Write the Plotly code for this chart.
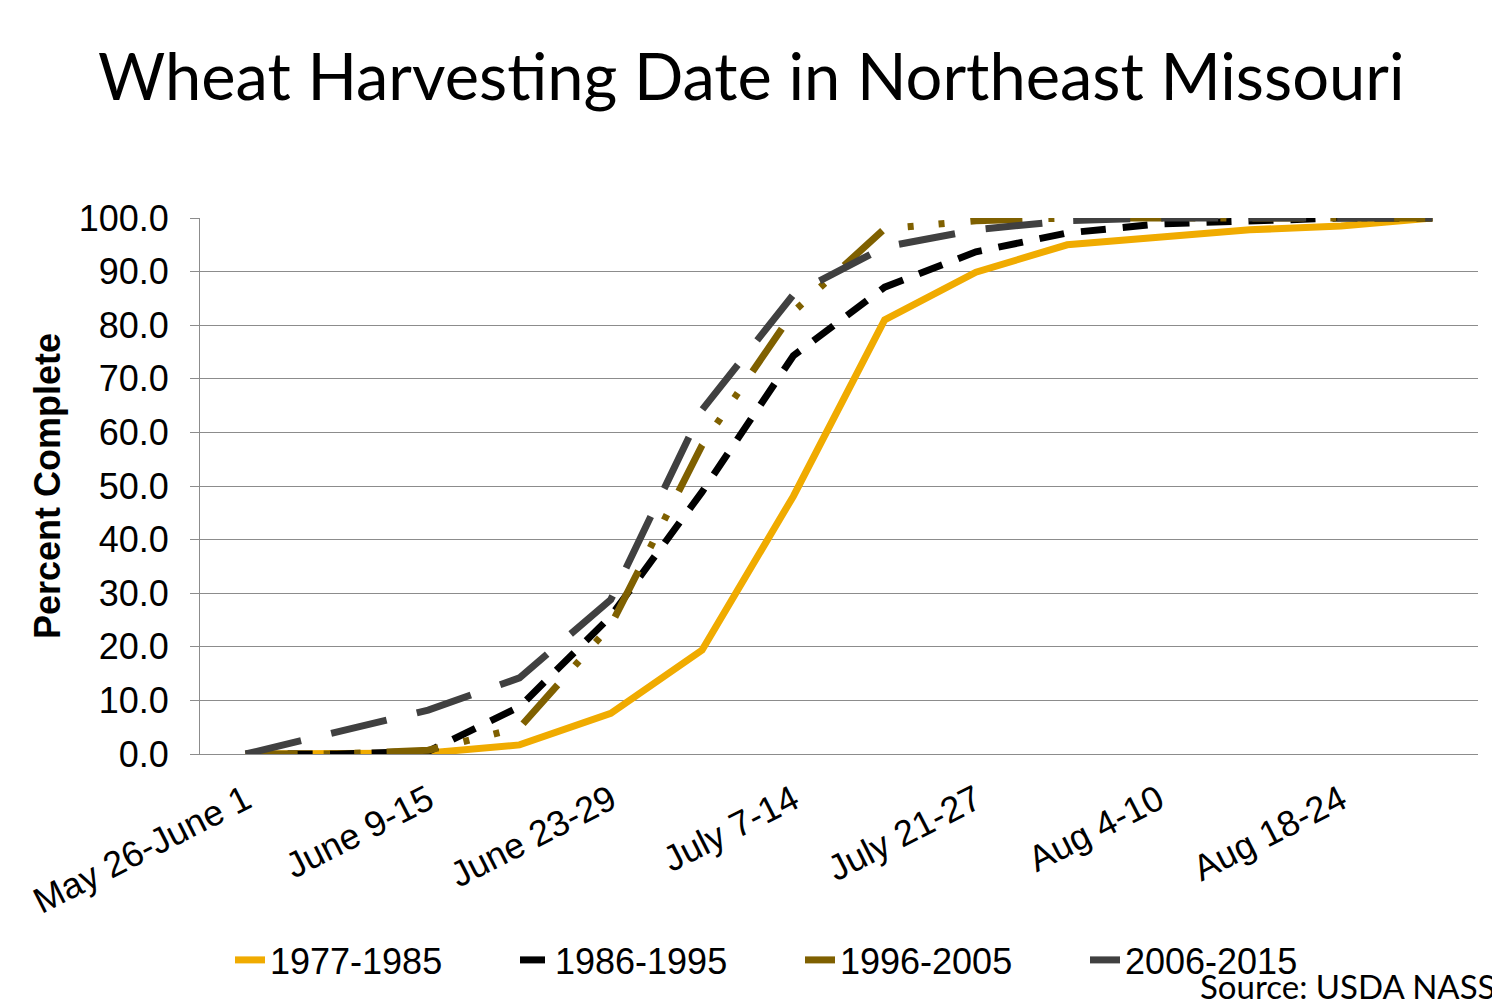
import plotly.graph_objects as go

weeks = ["May 26-June 1", "June 2-8", "June 9-15", "June 16-22", "June 23-29",
         "June 30-July 6", "July 7-14", "July 15-20", "July 21-27", "July 28-Aug 3",
         "Aug 4-10", "Aug 11-17", "Aug 18-24", "Aug 25-31"]
tick_weeks = weeks[::2]

p1977_1985 = [0, 0, 0.2, 1.7, 7.6, 19.4, 48.1, 81.0, 89.9, 95.0, 96.4, 97.8, 98.5, 100]
p1986_1995 = [0, 0, 0.5, 8.8, 25.7, 48.9, 74.3, 87.1, 93.7, 97.2, 98.9, 99.6, 100, 100]
p1996_2005 = [0, 0, 0.7, 4.9, 24.0, 57.6, 82.5, 98.0, 99.5, 100, 100, 100, 100, 100]
p2006_2015 = [0, 4.0, 8.2, 14.2, 28.8, 64.2, 85.7, 94.6, 97.8, 99.5, 100, 100, 100, 100]

series = [
    ("1977-1985", p1977_1985, "#F0AB00", "solid"),
    ("1986-1995", p1986_1995, "#000000", "25px,17px"),
    ("1996-2005", p1996_2005, "#7F6000", "52px,26px,6px,25px,6px,26px"),
    ("2006-2015", p2006_2015, "#404040", "57px,31px"),
]

fig = go.Figure()
for name, vals, color, dash in series:
    fig.add_trace(go.Scatter(x=weeks, y=vals, name=name, mode="lines",
                             line=dict(color=color, width=7, dash=dash)))

fig.update_layout(
    width=1500, height=1000,
    paper_bgcolor="white", plot_bgcolor="white",
    margin=dict(l=192, r=30, t=210, b=254),
    title=dict(text="Wheat Harvesting Date in Northeast Missouri",
               font=dict(family="Lato", size=65, color="black"),
               x=0.4955, xref="container", xanchor="center",
               y=0.931, yref="container", yanchor="middle"),
    font=dict(family="Liberation Sans", color="black"),
    legend=dict(orientation="h", x=0.148, xref="container", xanchor="left",
                y=0.048, yref="container", yanchor="middle",
                font=dict(family="Liberation Sans", size=36, color="black"),
                entrywidth=240, itemwidth=30, bgcolor="rgba(0,0,0,0)"),
    showlegend=True,
)

fig.update_xaxes(type="category", tickmode="array", tickvals=tick_weeks, ticktext=tick_weeks,
                 tickangle=-27, tickfont=dict(family="Liberation Sans", size=36, color="black"),
                 showgrid=False, showline=True, linecolor="#8c8c8c", linewidth=1,
                 ticks="", ticklabelstandoff=10, range=[-0.5, 13.5], automargin=False)

fig.update_yaxes(range=[0, 100], tickmode="linear", tick0=0, dtick=10, tickformat=".1f",
                 tickfont=dict(family="Liberation Sans", size=36, color="black"),
                 showgrid=True, gridcolor="#8c8c8c", gridwidth=1,
                 zeroline=False, showline=True, linecolor="#8c8c8c", linewidth=1,
                 ticks="outside", ticklen=9, tickcolor="#8c8c8c", ticklabelstandoff=14,
                 automargin=False,
                 title=dict(text="<b>Percent Complete</b>",
                            font=dict(family="Liberation Sans", size=36, color="black"),
                            standoff=7))

fig.add_annotation(text="Source: USDA NASS", xref="paper", yref="paper",
                   x=1.0149, y=-0.432, xanchor="right", yanchor="middle", showarrow=False,
                   font=dict(family="Lato", size=33, color="black"))

fig.write_html("out.html")
